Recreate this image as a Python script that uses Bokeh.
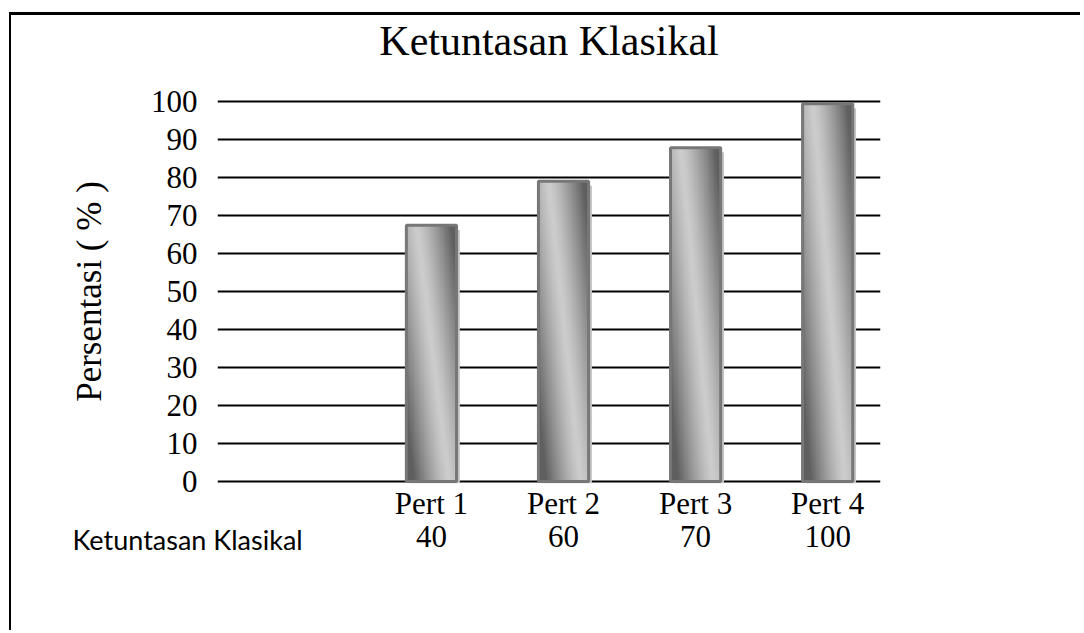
import numpy as np
from bokeh.plotting import figure
from bokeh.models import (Range1d, FixedTicker, LinearAxis, Title, ColumnDataSource,
                          InlineStyleSheet)
from bokeh.transform import dodge
from bokeh.embed import file_html
from bokeh.resources import INLINE

# ---- data ----
categories = ["Pert 1", "Pert 2", "Pert 3", "Pert 4"]
bar_values = [67.4, 79.0, 87.8, 99.4]          # drawn bar heights (%)
table_values = ["40", "60", "70", "100"]        # data-table row under the chart
table_row_label = "Ketuntasan Klasikal"
y_ticks = [0, 10, 20, 30, 40, 50, 60, 70, 80, 90, 100]
title_text = "Ketuntasan Klasikal"
y_label = "Persentasi ( % )"

SERIF = "Liberation Serif"
xs = list(range(1, len(categories) + 1))

p = figure(width=1080, height=630, output_backend="svg", toolbar_location=None,
           x_range=Range1d(-0.62, 4.4), y_range=Range1d(-0.5, 100.5),
           min_border_left=217, min_border_right=200,
           min_border_top=99, min_border_bottom=147)
p.outline_line_color = None
p.background_fill_color = "white"
p.border_fill_color = "white"

# chart-area border (top and left edges of the Excel chart box)
p.stylesheets = [InlineStyleSheet(css=(
    ":host::after { content: ''; position: absolute; left: 9px; top: 12px; "
    "right: 0; bottom: 0; border-top: 3px solid #000; border-left: 2px solid #000; "
    "pointer-events: none; z-index: 10; }"))]

# grid
p.xgrid.visible = False
p.ygrid.ticker = FixedTicker(ticks=y_ticks)
p.ygrid.grid_line_color = "black"
p.ygrid.grid_line_width = 2

# y axis
yax = p.yaxis[0]
yax.ticker = FixedTicker(ticks=y_ticks)
yax.axis_line_color = None
yax.major_tick_line_color = None
yax.minor_tick_line_color = None
yax.major_label_text_font = SERIF
yax.major_label_text_font_size = "31px"
yax.major_label_text_color = "black"
yax.major_label_standoff = 14
yax.axis_label = y_label
yax.axis_label_text_font = SERIF
yax.axis_label_text_font_size = "35px"
yax.axis_label_text_font_style = "normal"
yax.axis_label_text_color = "black"
yax.axis_label_standoff = 39

# x axis (category names)
xax = p.xaxis[0]
xax.ticker = FixedTicker(ticks=xs)
xax.major_label_overrides = {x: c for x, c in zip(xs, categories)}
xax.axis_line_color = None
xax.major_tick_line_color = None
xax.minor_tick_line_color = None
xax.major_label_text_font = SERIF
xax.major_label_text_font_size = "31px"
xax.major_label_text_color = "black"
xax.major_label_standoff = -4

# title as the label of an empty top axis
top_ax = LinearAxis(ticker=FixedTicker(ticks=[]), axis_label=title_text)
top_ax.axis_line_color = None
top_ax.major_tick_line_color = None
top_ax.minor_tick_line_color = None
top_ax.major_label_standoff = 0
top_ax.axis_label_text_font = SERIF
top_ax.axis_label_text_font_size = "42px"
top_ax.axis_label_text_font_style = "normal"
top_ax.axis_label_text_color = "black"
top_ax.axis_label_standoff = 36
p.add_layout(top_ax, "above")

# data table row as second axis
tbl = LinearAxis(ticker=FixedTicker(ticks=xs),
                 major_label_overrides={x: v for x, v in zip(xs, table_values)})
tbl.axis_line_color = None
tbl.major_tick_line_color = None
tbl.minor_tick_line_color = None
tbl.major_label_text_font = SERIF
tbl.major_label_text_font_size = "31px"
tbl.major_label_text_color = "black"
tbl.major_label_standoff = -4
p.add_layout(tbl, "below")

# row header of the data table
row_title = Title(text=table_row_label, align="left", vertical_align="top",
                  offset=-145, standoff=-54, text_font="Lato", text_font_size="27px",
                  text_font_style="normal", text_color="black")
p.add_layout(row_title, "below")

# ---- bars ----
src = ColumnDataSource(dict(x=xs, top=bar_values))
BAR_W = 0.38
# drop shadow
p.vbar(x=dodge("x", 0.025, range=p.x_range), top=dodge("top", -1.2, range=p.y_range),
       bottom=-0.9, width=BAR_W, source=src, fill_color="#c6c6c6", line_color=None)

# gradient texture (diagonal reflected grey gradient like the original fill)
def gradient_image(rows=240, cols=60):
    v = 1.0 - np.linspace(0, 1, rows)[:, None]   # 0 at top, 1 at bottom (row 0 = bottom)
    u = np.linspace(0, 1, cols)[None, :]
    c = 0.2 + 0.65 * v
    d = np.clip(np.abs(u - c) / 0.7, 0, 1) ** 1.3
    g = (205 - 110 * d).astype(np.uint32)
    img = (255 << 24) | (g << 16) | (g << 8) | g
    return img.astype(np.uint32)

grad = gradient_image()
p.image_rgba(image=[grad] * len(xs), x=[x - BAR_W / 2 for x in xs], y=[0] * len(xs),
             dw=[BAR_W] * len(xs), dh=bar_values)

# outline
p.vbar(x="x", top="top", bottom=0, width=BAR_W, source=src,
       fill_alpha=0, line_color="#777777", line_width=3)

open("out.html", "w").write(file_html(p, INLINE))
